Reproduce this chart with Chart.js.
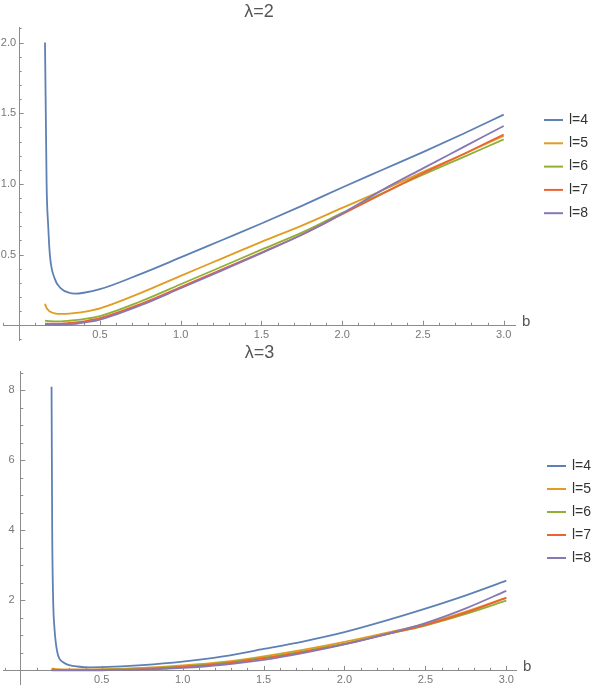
<!DOCTYPE html>
<html>
<head>
<meta charset="utf-8">
<script src="https://cdn.jsdelivr.net/npm/chart.js@4.4.1/dist/chart.umd.min.js"></script>
<style>
  html, body { margin: 0; padding: 0; background: #fff; overflow: hidden; }
  #wrap { position: relative; width: 592px; height: 685px; overflow: hidden; }
  #wrap canvas { position: absolute; left: 0; }
  #top { top: 0; }
  #bottom { top: 340px; }
</style>
</head>
<body>
<div id="wrap">
  <canvas id="top" width="592" height="350"></canvas>
  <canvas id="bottom" width="592" height="355"></canvas>
</div>
<script>
// series labels and colours (Mathematica default palette)
const seriesLabels = ["l=4", "l=5", "l=6", "l=7", "l=8"];
const seriesColors = ["#5e81b5", "#e19c24", "#8fb032", "#eb6235", "#8778b3"];

// lambda = 2
const bLam2 = [0.16, 0.165, 0.17, 0.18, 0.19, 0.22, 0.26, 0.31, 0.345, 0.4, 0.5,
  0.75, 1.0, 1.25, 1.5, 1.75, 2.0, 2.25, 2.5, 2.75, 3.0];
const lam2L4 = [2.0, 1.5, 1.0, 0.7, 0.5, 0.33, 0.26, 0.23, 0.224, 0.23, 0.255,
  0.362, 0.48, 0.6, 0.72, 0.845, 0.975, 1.1, 1.225, 1.355, 1.49];
const lam2L5 = [0.152, 0.135, 0.122, 0.108, 0.098, 0.085, 0.081, 0.083, 0.087, 0.095, 0.12,
  0.228, 0.35, 0.47, 0.59, 0.705, 0.83, 0.955, 1.085, 1.21, 1.34];
const lam2L6 = [0.033, 0.032, 0.031, 0.03, 0.029, 0.028, 0.028, 0.032, 0.036, 0.044, 0.065,
  0.168, 0.29, 0.412, 0.535, 0.655, 0.795, 0.935, 1.065, 1.19, 1.315];
const lam2L7 = [0.012, 0.012, 0.012, 0.012, 0.012, 0.012, 0.012, 0.016, 0.02, 0.028, 0.05,
  0.15, 0.27, 0.392, 0.515, 0.64, 0.785, 0.93, 1.075, 1.21, 1.35];
const lam2L8 = [0.002, 0.002, 0.002, 0.002, 0.002, 0.002, 0.003, 0.006, 0.01, 0.018, 0.04,
  0.14, 0.262, 0.385, 0.51, 0.64, 0.79, 0.958, 1.11, 1.26, 1.41];

// lambda = 3
const bLam3 = [0.19, 0.192, 0.194, 0.2, 0.208, 0.216, 0.231, 0.262, 0.3, 0.35, 0.43, 0.5,
  0.75, 1.0, 1.25, 1.5, 1.75, 2.0, 2.25, 2.5, 2.75, 3.0];
const lam3L4 = [8.1, 6.0, 4.0, 2.0, 1.2, 0.8, 0.42, 0.23, 0.15, 0.11, 0.086, 0.09,
  0.15, 0.25, 0.4, 0.61, 0.83, 1.09, 1.41, 1.76, 2.14, 2.56];
const lam3L5 = [0.05, 0.049, 0.048, 0.045, 0.04, 0.037, 0.033, 0.03, 0.028, 0.028, 0.03, 0.034,
  0.07, 0.14, 0.24, 0.4, 0.59, 0.81, 1.06, 1.33, 1.68, 2.08];
const lam3L6 = [0.015, 0.015, 0.015, 0.014, 0.013, 0.012, 0.011, 0.01, 0.01, 0.01, 0.01, 0.015,
  0.045, 0.11, 0.21, 0.36, 0.55, 0.76, 1.02, 1.28, 1.61, 1.99];
const lam3L7 = [0.005, 0.005, 0.005, 0.005, 0.005, 0.005, 0.005, 0.005, 0.005, 0.005, 0.006, 0.01,
  0.035, 0.095, 0.19, 0.34, 0.53, 0.75, 1.02, 1.3, 1.65, 2.07];
const lam3L8 = [0, 0, 0, 0, 0, 0, 0, 0, 0, 0, 0, 0.002,
  0.02, 0.07, 0.16, 0.3, 0.5, 0.74, 1.03, 1.35, 1.77, 2.27];

const axisColor = "#8c8c8c";
const tickFont = { family: "'Liberation Sans', Arial, sans-serif", size: 11 };

// Mathematica-style ticks pointing inwards, major and minor
const inwardTicks = {
  id: "inwardTicks",
  afterDraw(chart, args, opts) {
    const { ctx } = chart;
    const xs = chart.scales.x;
    const ys = chart.scales.y;
    const x0 = xs.getPixelForValue(0);
    const y0 = ys.getPixelForValue(0);
    ctx.save();
    ctx.strokeStyle = axisColor;
    ctx.lineWidth = 1;
    const onStep = (v, s) => Math.abs(v / s - Math.round(v / s)) < 1e-6 && Math.abs(v) > 1e-9;
    xs.ticks.forEach((t) => {
      if (!onStep(t.value, opts.xStep)) return;
      const len = onStep(t.value, opts.xMajor) ? 4.5 : 2.5;
      const px = Math.round(xs.getPixelForValue(t.value)) + 0.5;
      ctx.beginPath();
      ctx.moveTo(px, y0);
      ctx.lineTo(px, y0 - len);
      ctx.stroke();
    });
    ys.ticks.forEach((t) => {
      if (!onStep(t.value, opts.yStep)) return;
      const len = onStep(t.value, opts.yMajor) ? 4.5 : 2.5;
      const py = Math.round(ys.getPixelForValue(t.value)) + 0.5;
      ctx.beginPath();
      ctx.moveTo(x0, py);
      ctx.lineTo(x0 + len, py);
      ctx.stroke();
    });
    ctx.restore();
  }
};

// legend at the right, drawn from the datasets
const sideLegend = {
  id: "sideLegend",
  afterDraw(chart, args, opts) {
    const { ctx } = chart;
    ctx.save();
    ctx.font = "14px 'Liberation Sans', Arial, sans-serif";
    ctx.textBaseline = "middle";
    chart.data.datasets.forEach((ds, i) => {
      const y = opts.y + i * opts.gap;
      ctx.strokeStyle = ds.borderColor;
      ctx.lineWidth = 2;
      ctx.beginPath();
      ctx.moveTo(opts.x, y);
      ctx.lineTo(opts.x + 19, y);
      ctx.stroke();
      ctx.fillStyle = "#333";
      ctx.fillText(ds.label, opts.x + 25, y);
    });
    ctx.restore();
  }
};

// axis label "b"
const bLabel = {
  id: "bLabel",
  afterDraw(chart) {
    const { ctx } = chart;
    const y0 = chart.scales.y.getPixelForValue(0);
    ctx.save();
    ctx.font = "15px 'Liberation Sans', Arial, sans-serif";
    ctx.fillStyle = "#555";
    ctx.textBaseline = "middle";
    ctx.fillText("b", chart.chartArea.right + 7, y0 - 3);
    ctx.restore();
  }
};

function makeDatasets(bVals, seriesList) {
  return seriesList.map((vals, i) => ({
    label: seriesLabels[i],
    data: bVals.map((b, k) => ({ x: b, y: vals[k] })),
    borderColor: seriesColors[i],
    borderWidth: 1.8,
    pointRadius: 0,
    fill: false,
    cubicInterpolationMode: "monotone",
    order: seriesList.length - i
  }));
}

function makeChart(id, cfg) {
  return new Chart(document.getElementById(id), {
    type: "line",
    data: { datasets: makeDatasets(cfg.b, cfg.series) },
    plugins: [inwardTicks, sideLegend, bLabel],
    options: {
      responsive: false,
      animation: false,
      layout: { padding: cfg.padding },
      plugins: {
        legend: { display: false },
        tooltip: { enabled: false },
        title: {
          display: true,
          text: cfg.title,
          fullSize: false,
          color: "#555",
          font: { family: "'Liberation Sans', Arial, sans-serif", size: 18, weight: "normal" },
          padding: cfg.titlePad
        },
        inwardTicks: { xStep: 0.1, xMajor: 0.5, yStep: cfg.yStep, yMajor: cfg.yMajor },
        sideLegend: cfg.legend
      },
      scales: {
        x: {
          type: "linear",
          min: cfg.xMin,
          max: cfg.xMax,
          position: { y: 0 },
          grid: { drawOnChartArea: false, drawTicks: false },
          border: { display: true, color: axisColor, width: 1 },
          ticks: {
            stepSize: 0.1,
            includeBounds: false,
            maxTicksLimit: 1000,
            autoSkip: false,
            maxRotation: 0,
            padding: 3,
            color: "#777",
            font: tickFont,
            callback: (v) => {
              const r = Math.round(v * 10) / 10;
              return Math.abs(r / 0.5 - Math.round(r / 0.5)) < 1e-6 && r > 0 ? r.toFixed(1) : "";
            }
          }
        },
        y: {
          type: "linear",
          min: cfg.yMin,
          max: cfg.yMax,
          position: { x: 0 },
          grid: { drawOnChartArea: false, drawTicks: false },
          border: { display: true, color: axisColor, width: 1 },
          ticks: {
            stepSize: cfg.yStep,
            includeBounds: false,
            maxTicksLimit: 1000,
            autoSkip: false,
            color: "#777",
            font: tickFont,
            callback: (v) => {
              const r = Math.round(v * 10) / 10;
              if (r <= 0 || Math.abs(r / cfg.yMajor - Math.round(r / cfg.yMajor)) > 1e-6) return "";
              // trailing gap keeps the label off the axis line
              return r.toFixed(cfg.yDigits) + cfg.yGap;
            }
          }
        }
      }
    },
  });
}

makeChart("top", {
  title: "\u03bb=2",
  b: bLam2,
  series: [lam2L4, lam2L5, lam2L6, lam2L7, lam2L8],
  xMin: -0.1, xMax: 3.07,
  yMin: -0.107, yMax: 2.11,
  yStep: 0.1, yMajor: 0.5, yDigits: 1, yGap: " ",
  padding: { left: 3, right: 77, top: 0, bottom: 0 },
  titlePad: { top: 1, bottom: 4.4 },
  legend: { x: 544, y: 120, gap: 23.3 }
});

makeChart("bottom", {
  title: "\u03bb=3",
  b: bLam3,
  series: [lam3L4, lam3L5, lam3L6, lam3L7, lam3L8],
  xMin: -0.11, xMax: 3.06,
  yMin: -0.43, yMax: 8.52,
  yStep: 0.5, yMajor: 2, yDigits: 0, yGap: "  ",
  padding: { left: 3, right: 76, top: 0, bottom: 0 },
  titlePad: { top: 2.2, bottom: 8.2 },
  legend: { x: 547, y: 126, gap: 23 }
});
</script>
</body>
</html>
